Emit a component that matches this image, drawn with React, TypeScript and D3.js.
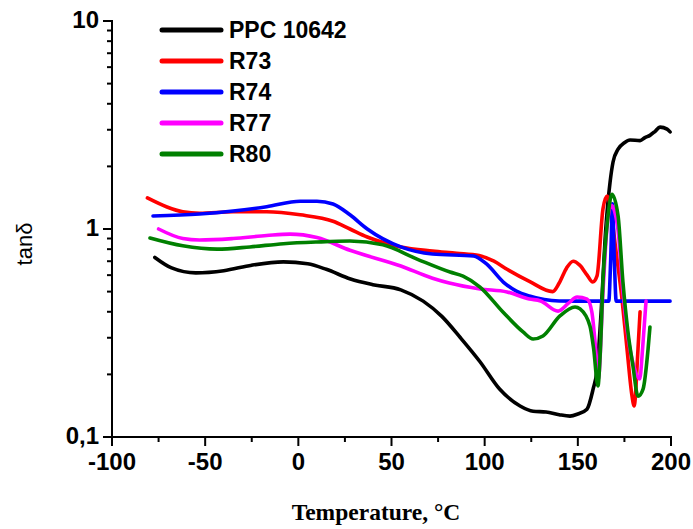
import React from 'react';
import * as d3 from 'd3';

const seriesNames = ['PPC 10642', 'R73', 'R74', 'R77', 'R80'];
const seriesColors = ['#000000', '#ff0000', '#0000ff', '#ff00ff', '#008000'];

const ppcT = [-77, -68, -55, -40, -25, -8, 5, 15, 28, 40, 55, 67, 77, 87, 97.5, 108, 119, 126, 133, 140, 145.8, 150, 154.9, 158.2, 160.3, 162.5, 165, 167.3, 168.9, 171.6, 175, 178, 183.4, 186, 188.7, 191.5, 194.1, 197.9, 199.5];
const ppcV = [0.73, 0.65, 0.615, 0.63, 0.67, 0.695, 0.68, 0.64, 0.575, 0.54, 0.51, 0.45, 0.38, 0.30, 0.23, 0.17, 0.141, 0.133, 0.132, 0.128, 0.126, 0.129, 0.136, 0.17, 0.21, 0.4, 1.0, 1.68, 2.1, 2.42, 2.6, 2.68, 2.66, 2.75, 2.82, 2.95, 3.09, 3.02, 2.93];

const r73T = [-81, -70.5, -62, -53, -35, -17, 1, 18.6, 27.7, 37, 55, 72, 85, 97, 105, 112, 124, 136.5, 140, 144, 147.5, 151, 155, 158, 160.3, 163.5, 165.7, 168, 170, 173.7, 176.4, 179.1, 180.2, 182.3, 183.4];
const r73V = [1.41, 1.276, 1.21, 1.19, 1.21, 1.21, 1.17, 1.09, 1.0, 0.915, 0.82, 0.784, 0.765, 0.745, 0.70, 0.64, 0.56, 0.50, 0.55, 0.65, 0.70, 0.67, 0.60, 0.556, 0.595, 1.25, 1.44, 1.2, 0.85, 0.461, 0.265, 0.157, 0.141, 0.265, 0.40];

const r74T = [-78, -53, -35, -17, 1, 10, 18.6, 27.7, 37, 55, 72, 94, 101, 110, 117, 124, 140, 155, 166.6, 167.6, 168.6, 169.6, 170.6, 185, 199.5];
const r74V = [1.155, 1.18, 1.22, 1.28, 1.36, 1.36, 1.32, 1.17, 1.0, 0.82, 0.758, 0.742, 0.679, 0.556, 0.503, 0.476, 0.451, 0.45, 0.45, 0.7, 1.32, 0.7, 0.45, 0.45, 0.45];

const r77T = [-75, -62, -53, -35, -17, -4.5, 10, 27.7, 55, 72, 81, 97.5, 112, 124, 130, 139.4, 145, 149.6, 155, 157.5, 159.5, 161, 163.5, 166, 168, 171.5, 174.2, 177, 180, 183.2, 184.8, 186.6];
const r77V = [1.0, 0.90, 0.885, 0.9, 0.93, 0.945, 0.91, 0.79, 0.664, 0.58, 0.55, 0.515, 0.498, 0.461, 0.451, 0.403, 0.44, 0.471, 0.46, 0.40, 0.27, 0.19, 0.5, 1.1, 1.3, 1.0, 0.5, 0.3, 0.22, 0.19, 0.27, 0.45];

const r80T = [-79.6, -62, -43.6, -26, -8, 10, 27.7, 45.4, 63.7, 81.4, 88.4, 97.5, 109.8, 120.6, 126, 131.3, 140.4, 148.5, 151.2, 156.5, 158.5, 160.8, 162, 163.5, 166.2, 168.3, 171.6, 174.2, 176.9, 179.6, 182.3, 185, 187.7, 188.7];
const r80V = [0.905, 0.83, 0.80, 0.82, 0.85, 0.866, 0.875, 0.84, 0.717, 0.621, 0.594, 0.526, 0.399, 0.32, 0.296, 0.306, 0.382, 0.422, 0.413, 0.342, 0.265, 0.176, 0.25, 0.556, 1.155, 1.47, 1.155, 0.556, 0.32, 0.219, 0.157, 0.17, 0.265, 0.338];

const seriesT = [ppcT, r73T, r74T, r77T, r80T];
const seriesV = [ppcV, r73V, r74V, r77V, r80V];

const xTicks = [-100, -50, 0, 50, 100, 150, 200];
const xMinorTicks = [-75, -25, 25, 75, 125, 175];
const yTickValues = [0.1, 1, 10];
const yTickLabels = ['0,1', '1', '10'];

const xLabel = 'Temperature, °C';
const yLabel = 'tanδ';

export default function App() {
  const W = 693, H = 529;
  const x = d3.scaleLinear().domain([-100, 200]).range([112, 671]);
  const y = d3.scaleLog().domain([0.1, 10]).range([437, 21]);
  const line = d3.line<[number, number]>()
    .x(d => x(d[0]))
    .y(d => y(d[1]))
    .curve(d3.curveMonotoneX);

  const minorY = y.ticks().filter(v => !yTickValues.some(m => Math.abs(m - v) < 1e-9));
  const font = 'Arial, "Liberation Sans", sans-serif';

  return (
    <svg width={W} height={H} style={{ position: 'absolute', left: 0, top: 0, background: '#fff' }}>
      <rect x={0} y={0} width={W} height={H} fill="#fff" />
      {seriesT.map((ts, i) => {
        const pts: [number, number][] = ts.map((t, j) => [t, seriesV[i][j]]);
        return (
          <path key={i} d={line(pts) || ''} fill="none" stroke={seriesColors[i]}
            strokeWidth={3.6} strokeLinejoin="round" strokeLinecap="round" />
        );
      })}
      <line x1={x(-100)} x2={x(-100)} y1={y(10) - 1} y2={y(0.1)} stroke="#000" strokeWidth={2} />
      <line x1={x(-100)} x2={x(200) + 1} y1={y(0.1)} y2={y(0.1)} stroke="#000" strokeWidth={2} />
      {yTickValues.map((v, i) => (
        <g key={'ym' + i}>
          <line x1={x(-100) - 9} x2={x(-100)} y1={y(v)} y2={y(v)} stroke="#000" strokeWidth={2} />
          <text x={99} y={y(v) + 7} textAnchor="end" fontFamily={font} fontWeight="bold" fontSize={24} fill="#000">{yTickLabels[i]}</text>
        </g>
      ))}
      {minorY.map((v, i) => (
        <line key={'yn' + i} x1={x(-100) - 5} x2={x(-100)} y1={y(v)} y2={y(v)} stroke="#000" strokeWidth={2} />
      ))}
      {xTicks.map((t, i) => (
        <g key={'xm' + i}>
          <line x1={x(t)} x2={x(t)} y1={y(0.1)} y2={y(0.1) + 9} stroke="#000" strokeWidth={2} />
          <text x={x(t)} y={469.5} textAnchor="middle" fontFamily={font} fontWeight="bold" fontSize={24} fill="#000">{t}</text>
        </g>
      ))}
      {xMinorTicks.map((t, i) => (
        <line key={'xn' + i} x1={x(t)} x2={x(t)} y1={y(0.1)} y2={y(0.1) + 5} stroke="#000" strokeWidth={2} />
      ))}
      <text x={376} y={520} textAnchor="middle" fontFamily='"Liberation Serif", "Times New Roman", serif' fontWeight="bold" fontSize={23.5} fill="#000">{xLabel}</text>
      <text transform={`translate(32,244) rotate(-90)`} textAnchor="middle" fontFamily={font} fontSize={22} fill="#000">{yLabel}</text>
      {seriesNames.map((n, i) => (
        <g key={'lg' + i}>
          <line x1={162} x2={221} y1={30 + i * 31} y2={30 + i * 31} stroke={seriesColors[i]} strokeWidth={5} strokeLinecap="round" />
          <text x={229} y={30 + i * 31 + 8} fontFamily={font} fontWeight="bold" fontSize={23} fill="#000">{n}</text>
        </g>
      ))}
    </svg>
  );
}
